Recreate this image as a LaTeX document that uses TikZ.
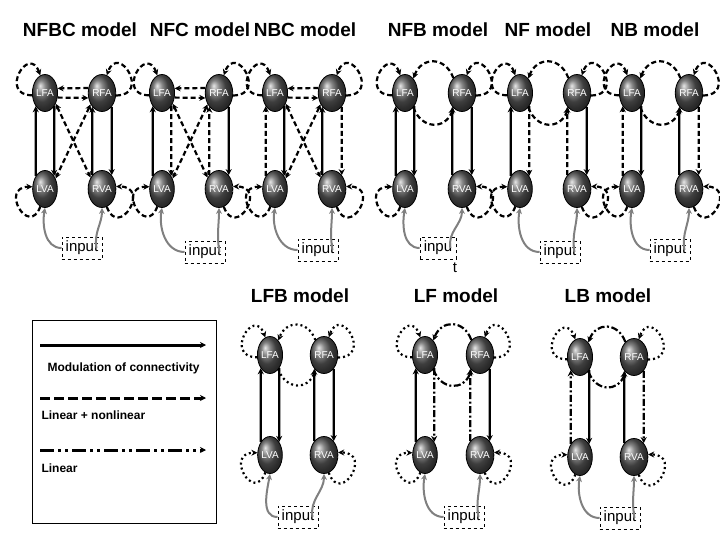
\documentclass[tikz,border=0pt]{standalone}
\usepackage{fontspec}
\setmainfont{Liberation Sans}
\usetikzlibrary{shapes.geometric,arrows.meta}
\begin{document}
\begin{tikzpicture}[x=1pt,y=-1pt,>={Stealth[length=6pt,width=6pt]},
  area/.style={ellipse,draw=black,thick,inner sep=0pt,minimum width=24pt,minimum height=37pt,
    ball color=gray!70!black,text=white,font=\fontsize{10}{10}\selectfont},
  inbox/.style={draw,dashed,thin,inner sep=4pt,font=\fontsize{15}{15}\selectfont},
  title/.style={font=\fontsize{19}{19}\bfseries\selectfont},
  conn/.style={line width=2.2pt},
  nl/.style={conn,dash pattern=on 5pt off 3pt},
  lin/.style={conn,dash pattern=on 7pt off 2.5pt on 2pt off 2.5pt},
  dot/.style={conn,dash pattern=on 2pt off 3pt},
  sol/.style={conn},
  feed/.style={gray,line width=2pt,->}]
\useasboundingbox (0,0) rectangle (720,540);

% titles
\node[title] at (80,30) {NFBC model};
\node[title] at (200,30) {NFC model};
\node[title] at (305,30) {NBC model};
\node[title] at (438,30) {NFB model};
\node[title] at (548,30) {NF model};
\node[title] at (655,30) {NB model};
\node[title] at (300,296) {LFB model};
\node[title] at (456,296) {LF model};
\node[title] at (608,296) {LB model};

% panels
\foreach \p/\x/\y/\dx/\dy/\ls/\lat/\kind/\a/\b/\c/\d/\ix/\iy/\tx in {
  nfbc/45/93/57/96/nl/nl/x/sol/sol/sol/sol/82/248/input,
  nfc/162/93/57/96/nl/nl/x/sol/nl/nl/sol/205/252/input,
  nbc/275/93/57/96/nl/nl/x/nl/sol/sol/nl/318/250/input,
  nfb/405/93/57/96/nl/nl/arc/sol/sol/sol/sol/438/248/inpu,
  nf/520/93/57/96/nl/nl/arc/sol/nl/nl/sol/560/252/input,
  nb/632/93/57/96/nl/nl/arc/nl/sol/sol/nl/670/250/input,
  lfb/270/355/54/100/dot/dot/arc/sol/sol/sol/sol/298/517/input,
  lf/425/355/55/100/dot/lin/arc/sol/lin/lin/sol/464/517/input,
  lb/580/357/54/100/dot/lin/arc/lin/sol/sol/lin/620/518/input}{
  \node[area] (\p-LFA) at (\x,\y) {LFA};
  \node[area] (\p-RFA) at (\x+\dx,\y) {RFA};
  \node[area] (\p-LVA) at (\x,\y+\dy) {LVA};
  \node[area] (\p-RVA) at (\x+\dx,\y+\dy) {RVA};
  \node[inbox] (\p-in) at (\ix,\iy) {\tx};
  % forward / backward
  \draw[\a,->] (\p-LVA.125) -- (\p-LFA.235);
  \draw[\b,->] (\p-LFA.305) -- (\p-LVA.55);
  \draw[\c,->] (\p-RVA.125) -- (\p-RFA.235);
  \draw[\d,->] (\p-RFA.305) -- (\p-RVA.55);
  % self
  \draw[\ls,->] (\p-LFA.190) to[out=180,in=110,looseness=4] (\p-LFA.105);
  \draw[\ls,->] (\p-RFA.-10) to[out=0,in=70,looseness=4] (\p-RFA.75);
  \draw[\ls,->] (\p-LVA.-105) to[out=-110,in=180,looseness=4] (\p-LVA.170);
  \draw[\ls,->] (\p-RVA.-75) to[out=-70,in=0,looseness=4] (\p-RVA.10);
  % lateral
  \if x\kind
    \draw[\lat,->] (\p-RFA.160) -- (\p-LFA.20);
    \draw[\lat,->] (\p-LFA.-20) -- (\p-RFA.200);
    \draw[\lat,<->] (\p-LFA.-45) -- (\p-RVA.135);
    \draw[\lat,<->] (\p-RFA.-135) -- (\p-LVA.45);
  \else
    \draw[\lat,->] (\p-RFA.120) to[out=110,in=70,looseness=1.5] (\p-LFA.60);
    \draw[\lat,->] (\p-LFA.-60) to[out=-70,in=-110,looseness=1.5] (\p-RFA.-120);
  \fi
  % input
  \draw[feed] (\p-in.west) to[out=180,in=-100] (\p-LVA.south);
  \draw[feed] ([xshift=-6pt]\p-in.east) to[out=100,in=-90] (\p-RVA.south);
}
\node[font=\fontsize{15}{15}\selectfont] (nfbt) at (455,268) {t};

% legend
\draw (32,320) rectangle (216,523);
\coordinate (s1) at (40,345); \coordinate (e1) at (206,345);
\coordinate (s2) at (40,398); \coordinate (e2) at (206,398);
\coordinate (s3) at (40,450); \coordinate (e3) at (206,450);
\draw[line width=3pt,->] (s1) -- (e1);
\draw[line width=3pt,dash pattern=on 10pt off 4pt,->] (s2) -- (e2);
\draw[line width=3pt,dash pattern=on 14pt off 4pt on 3pt off 4pt on 3pt off 4pt,->] (s3) -- (e3);
\node[font=\fontsize{12}{12}\bfseries\selectfont,anchor=west] at (44,368) {Modulation of connectivity};
\node[font=\fontsize{12}{12}\bfseries\selectfont,anchor=west] at (38,415) {Linear + nonlinear};
\node[font=\fontsize{12}{12}\bfseries\selectfont,anchor=west] at (38,468) {Linear};
\end{tikzpicture}
\end{document}
